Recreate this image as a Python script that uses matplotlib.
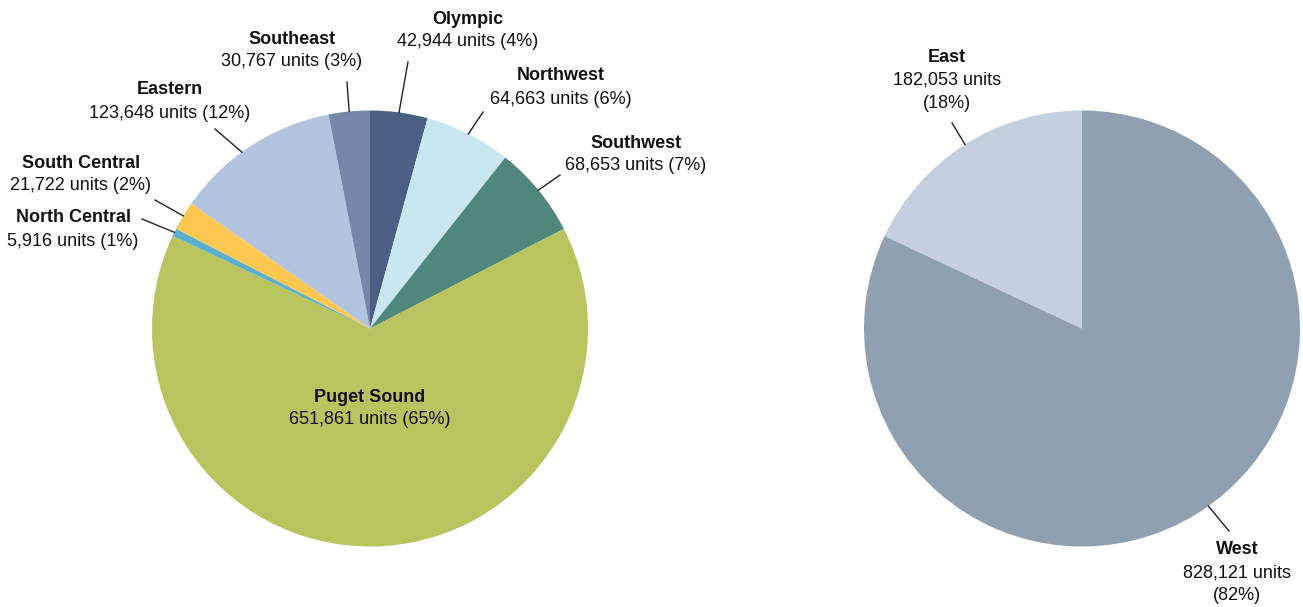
import numpy as np
import matplotlib
matplotlib.use("Agg")
import matplotlib.pyplot as plt

# regions, clockwise from 12 o'clock
regions = ["Olympic", "Northwest", "Southwest", "Puget Sound",
           "North Central", "South Central", "Eastern", "Southeast"]
units = [42944, 64663, 68653, 651861, 5916, 21722, 123648, 30767]
region_colors = ["#4b5f84", "#c8e7f1", "#50877c", "#b8c55e",
                 "#5ab0cc", "#fec850", "#b3c4e0", "#7687aa"]

sides = ["West", "East"]
side_units = [828121, 182053]
side_colors = ["#8fa0b0", "#c4cfdf"]

W, H = 1303, 607
TXT = "#111111"
FS = 13
plt.rcParams['font.family'] = ['Liberation Sans', 'DejaVu Sans']

fig = plt.figure(figsize=(W / 100, H / 100), dpi=100)
ax = fig.add_axes([0, 0, 1, 1])


def py(y):
    # pixel row -> data y
    return H - y


def fmt(v, total):
    return "{:,} units".format(v), "({:.0f}%)".format(100 * v / total)


def draw_pie(vals, cols, cx, cy, r):
    wedges, _ = ax.pie(vals, colors=cols, startangle=90, counterclock=False,
                       center=(cx, py(cy)), radius=r,
                       wedgeprops=dict(linewidth=0))
    return wedges


def edge_point(w, cx, cy, r, shift=0.0):
    a = np.deg2rad((w.theta1 + w.theta2) / 2 + shift)
    return cx + r * np.cos(a), py(cy) + r * np.sin(a)


def label(name, lines, x, y, gap=23):
    ax.text(x, py(y), name, ha='center', va='center', fontsize=FS,
            fontweight='bold', color=TXT)
    for i, s in enumerate(lines):
        ax.text(x, py(y + gap * (i + 1)), s, ha='center', va='center',
                fontsize=FS, color=TXT)


def leader(w, cx, cy, r, end, shift=0.0):
    x0, y0 = edge_point(w, cx, cy, r, shift)
    ax.plot([x0, end[0]], [y0, py(end[1])], color="#222222", lw=1.0)


# left pie
lcx, lcy, lr = 370, 328.5, 218
total = sum(units)
lw = draw_pie(units, region_colors, lcx, lcy, lr)

# label centre (x, y of bold line), leader end in pixels, angle nudge
left_layout = {
    "Olympic": ((468, 19), (408, 62), 0),
    "Northwest": ((561, 76), (483, 112), 0),
    "Southwest": ((636, 143), (560, 175), 0),
    "North Central": ((73, 218), (142, 219), 0),
    "South Central": ((81, 163), (155, 200), 0),
    "Eastern": ((170, 90), (215, 129), 3),
    "Southeast": ((292, 39), (347, 82), 0),
}
for w, name, v in zip(lw, regions, units):
    a, b = fmt(v, total)
    if name == "Puget Sound":
        label(name, [a + " " + b], 370, 397)
        continue
    pos, end, sh = left_layout[name]
    label(name, [a + " " + b], *pos)
    leader(w, lcx, lcy, lr, end, sh)

# right pie
rcx, rcy, rr = 1082, 328.5, 218
stotal = sum(side_units)
rw = draw_pie(side_units, side_colors, rcx, rcy, rr)
right_layout = {
    "West": ((1237, 550), (1229, 531), 3),
    "East": ((947, 57), (952, 123), 0),
}
for w, name, v in zip(rw, sides, side_units):
    pos, end, sh = right_layout[name]
    label(name, list(fmt(v, stotal)), *pos)
    leader(w, rcx, rcy, rr, end, sh)

ax.set_xlim(0, W)
ax.set_ylim(0, H)
ax.set_aspect('equal')
ax.axis('off')

fig.savefig("out.png", dpi=100, facecolor="white")
